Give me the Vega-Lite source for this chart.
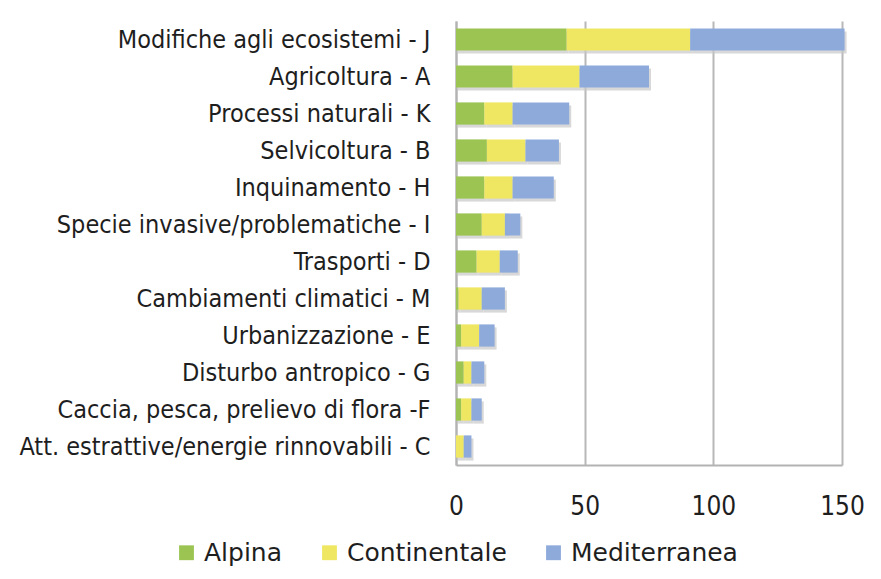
{
  "$schema": "https://vega.github.io/schema/vega-lite/v6.json",
  "width": 386,
  "height": 444,
  "autosize": {"type": "none"},
  "padding": {"left": 456, "top": 21, "right": 39, "bottom": 114},
  "background": "white",
  "config": {
    "view": {"stroke": null},
    "font": "DejaVu Sans Condensed, Liberation Sans, sans-serif"
  },
  "data": {
    "values": [
      {"cat": "Modifiche agli ecosistemi - J", "reg": "Alpina", "v": 43},
      {"cat": "Modifiche agli ecosistemi - J", "reg": "Continentale", "v": 48},
      {"cat": "Modifiche agli ecosistemi - J", "reg": "Mediterranea", "v": 60},
      {"cat": "Agricoltura - A", "reg": "Alpina", "v": 22},
      {"cat": "Agricoltura - A", "reg": "Continentale", "v": 26},
      {"cat": "Agricoltura - A", "reg": "Mediterranea", "v": 27},
      {"cat": "Processi naturali - K", "reg": "Alpina", "v": 11},
      {"cat": "Processi naturali - K", "reg": "Continentale", "v": 11},
      {"cat": "Processi naturali - K", "reg": "Mediterranea", "v": 22},
      {"cat": "Selvicoltura - B", "reg": "Alpina", "v": 12},
      {"cat": "Selvicoltura - B", "reg": "Continentale", "v": 15},
      {"cat": "Selvicoltura - B", "reg": "Mediterranea", "v": 13},
      {"cat": "Inquinamento - H", "reg": "Alpina", "v": 11},
      {"cat": "Inquinamento - H", "reg": "Continentale", "v": 11},
      {"cat": "Inquinamento - H", "reg": "Mediterranea", "v": 16},
      {"cat": "Specie invasive/problematiche - I", "reg": "Alpina", "v": 10},
      {"cat": "Specie invasive/problematiche - I", "reg": "Continentale", "v": 9},
      {"cat": "Specie invasive/problematiche - I", "reg": "Mediterranea", "v": 6},
      {"cat": "Trasporti - D", "reg": "Alpina", "v": 8},
      {"cat": "Trasporti - D", "reg": "Continentale", "v": 9},
      {"cat": "Trasporti - D", "reg": "Mediterranea", "v": 7},
      {"cat": "Cambiamenti climatici - M", "reg": "Alpina", "v": 1},
      {"cat": "Cambiamenti climatici - M", "reg": "Continentale", "v": 9},
      {"cat": "Cambiamenti climatici - M", "reg": "Mediterranea", "v": 9},
      {"cat": "Urbanizzazione - E", "reg": "Alpina", "v": 2},
      {"cat": "Urbanizzazione - E", "reg": "Continentale", "v": 7},
      {"cat": "Urbanizzazione - E", "reg": "Mediterranea", "v": 6},
      {"cat": "Disturbo antropico - G", "reg": "Alpina", "v": 3},
      {"cat": "Disturbo antropico - G", "reg": "Continentale", "v": 3},
      {"cat": "Disturbo antropico - G", "reg": "Mediterranea", "v": 5},
      {"cat": "Caccia, pesca, prelievo di flora -F", "reg": "Alpina", "v": 2},
      {"cat": "Caccia, pesca, prelievo di flora -F", "reg": "Continentale", "v": 4},
      {"cat": "Caccia, pesca, prelievo di flora -F", "reg": "Mediterranea", "v": 4},
      {"cat": "Att. estrattive/energie rinnovabili - C", "reg": "Alpina", "v": 0},
      {"cat": "Att. estrattive/energie rinnovabili - C", "reg": "Continentale", "v": 3},
      {"cat": "Att. estrattive/energie rinnovabili - C", "reg": "Mediterranea", "v": 3}
    ]
  },
  "encoding": {
    "y": {
      "field": "cat",
      "type": "nominal",
      "sort": null,
      "title": null,
      "scale": {"paddingInner": 0.4, "paddingOuter": 0.2},
      "axis": {
        "ticks": false,
        "domain": true,
        "domainColor": "#b3b3b3",
        "domainWidth": 2,
        "labelFontSize": 25,
        "labelColor": "#1e1e1e",
        "labelPadding": 26,
        "labelLimit": 600
      }
    },
    "x": {
      "field": "v",
      "type": "quantitative",
      "stack": "zero",
      "title": null,
      "scale": {"domain": [0, 150], "nice": false},
      "axis": {
        "values": [0, 50, 100, 150],
        "ticks": false,
        "grid": true,
        "gridColor": "#b8b8b8",
        "gridWidth": 2,
        "domain": true,
        "domainColor": "#b3b3b3",
        "domainWidth": 2,
        "labelFlush": false,
        "labelFontSize": 26,
        "labelColor": "#1e1e1e",
        "labelPadding": 28
      }
    }
  },
  "layer": [
    {
      "mark": {"type": "bar", "color": "#c8c8c8", "opacity": 0.7, "yOffset": 3, "xOffset": 2},
      "encoding": {"detail": {"field": "reg"}}
    },
    {
      "mark": {"type": "bar"},
      "encoding": {
        "color": {
          "field": "reg",
          "type": "nominal",
          "title": null,
          "scale": {
            "domain": ["Alpina", "Continentale", "Mediterranea"],
            "range": ["#9bc453", "#efe762", "#8eaadb"]
          },
          "legend": {
            "orient": "none",
            "direction": "horizontal",
            "legendX": -282,
            "legendY": 519,
            "symbolType": "square",
            "symbolSize": 220,
            "symbolStrokeWidth": 0,
            "labelFont": "DejaVu Sans, Liberation Sans, sans-serif",
            "labelFontSize": 25,
            "labelColor": "#1e1e1e",
            "labelOffset": 5,
            "labelLimit": 400,
            "columnPadding": 34
          }
        }
      }
    }
  ]
}
